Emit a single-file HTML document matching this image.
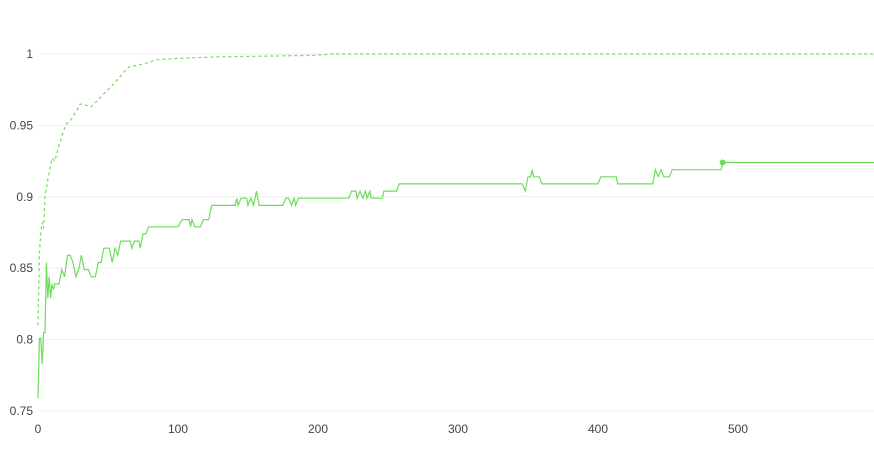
<!DOCTYPE html>
<html><head><meta charset="utf-8"><style>
body{margin:0;background:#fff;font-family:"Liberation Sans",sans-serif}
svg{display:block}
</style></head><body>
<svg id="chart" width="874" height="450" xmlns="http://www.w3.org/2000/svg"></svg>
<script>
const xTicks=[0,100,200,300,400,500];
const yTicks=[0.75,0.8,0.85,0.9,0.95,1];
const yTickLabels=["0.75","0.8","0.85","0.9","0.95","1"];
const solidX=[0,1,2,3,4,5,6,7,8,9,10,11,12,15,17,19,21,23,25,27,29,31,33,36,38,41,43,45,47,51,53,55,57,59,61,66,67,69,72,73,75,77,79,100,103,108,109,110,112,116,118,122,124,141,142,143,145,149,150,152,154,156,158,175,177,179,181,183,184,186,222,224,227,228,230,232,234,235,237,238,246,247,256,258,346,348,350,352,353,354,358,360,400,402,413,414,439,441,443,445,447,451,453,488,489,600];
const solidY=[0.759,0.801,0.801,0.783,0.805,0.805,0.854,0.829,0.844,0.829,0.839,0.835,0.839,0.839,0.849,0.844,0.859,0.859,0.854,0.844,0.849,0.859,0.849,0.849,0.844,0.844,0.854,0.854,0.864,0.864,0.854,0.864,0.859,0.869,0.869,0.869,0.864,0.869,0.869,0.864,0.874,0.874,0.879,0.879,0.884,0.884,0.879,0.884,0.879,0.879,0.884,0.884,0.894,0.894,0.899,0.894,0.899,0.899,0.894,0.899,0.894,0.904,0.894,0.894,0.899,0.899,0.894,0.899,0.894,0.899,0.899,0.904,0.904,0.899,0.904,0.899,0.904,0.899,0.904,0.899,0.899,0.904,0.904,0.909,0.909,0.904,0.914,0.914,0.919,0.914,0.914,0.909,0.909,0.914,0.914,0.909,0.909,0.919,0.914,0.919,0.914,0.914,0.919,0.919,0.924,0.924];
const dashX=[0,1,2,3,4,5,7,9,10,12,15,18,20,23,26,28,30,35,38,45,55,62,65,75,85,100,128,196,210,600];
const dashY=[0.81,0.86,0.875,0.882,0.878,0.9,0.912,0.922,0.927,0.925,0.936,0.945,0.951,0.953,0.958,0.961,0.965,0.964,0.963,0.97,0.98,0.988,0.991,0.993,0.996,0.997,0.998,0.999,1.0,1.0];
const markerX=489, markerY=0.924;
const NS="http://www.w3.org/2000/svg";
const svg=document.getElementById('chart');
const X=v=>38+v*1.4;
const Y=v=>54+(1-v)/0.25*357;
function mk(t,a){const e=document.createElementNS(NS,t);for(const k in a)e.setAttribute(k,a[k]);svg.appendChild(e);return e;}
yTicks.forEach((t,i)=>{
 const g=mk('line',{x1:38,x2:874,y1:Y(t),y2:Y(t),stroke:'#eeeeee','stroke-width':1});
 
 
 const l=mk('text',{x:33,y:Y(t)+4,'text-anchor':'end','font-size':12,fill:'#444'});
 l.textContent=yTickLabels[i];
 
 
});
xTicks.forEach(t=>{
 const l=mk('text',{x:X(t),y:433,'text-anchor':'middle','font-size':12,fill:'#444'});
 l.textContent=String(t);
 
 
});
const path=(xs,ys)=>xs.map((x,i)=>(i?'L':'M')+X(x).toFixed(1)+' '+Y(ys[i]).toFixed(1)).join(' ');
const d=mk('path',{d:path(dashX,dashY),fill:'none',stroke:'#6fdc5c','stroke-width':1.2,'stroke-dasharray':'3,3'});


const s=mk('path',{d:path(solidX,solidY),fill:'none',stroke:'#6fdc5c','stroke-width':1.2});


const m=mk('circle',{cx:X(markerX),cy:Y(markerY),r:3,fill:'#6fdc5c'});


</script>
</body></html>
